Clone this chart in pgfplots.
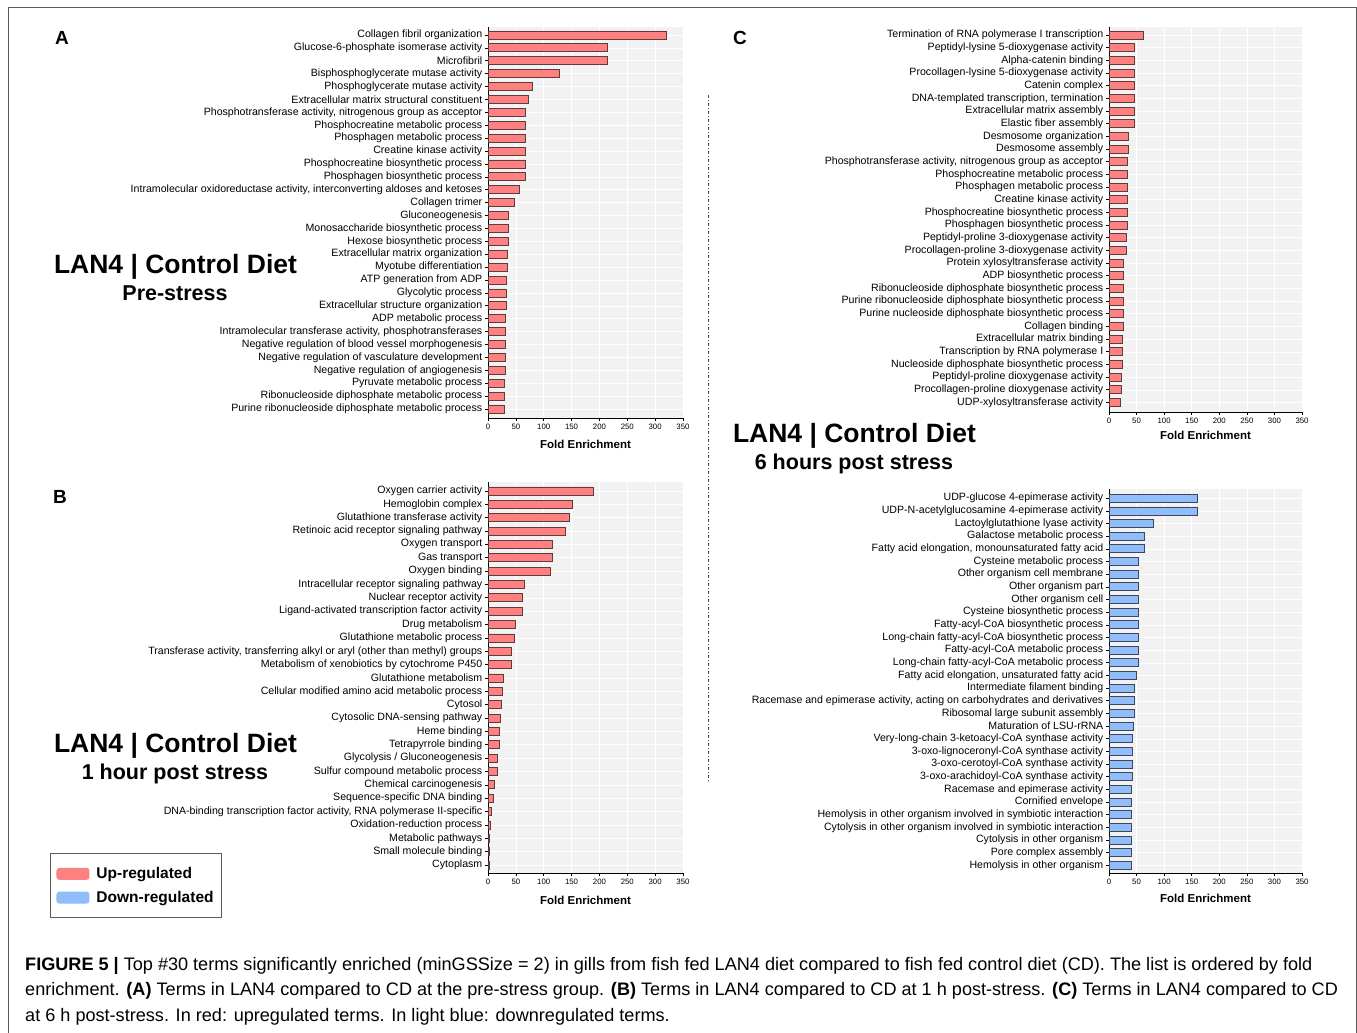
\documentclass[border=0pt]{standalone}
\usepackage{fontspec}
\setmainfont{Liberation Sans}
\usepackage{pgfplots}
\pgfplotsset{compat=1.18}

\definecolor{upred}{RGB}{255,128,128}
\definecolor{upedge}{RGB}{95,60,60}
\definecolor{downblue}{RGB}{145,190,250}
\definecolor{downedge}{RGB}{60,70,95}
\definecolor{bggray}{RGB}{242,242,242}
\definecolor{framegray}{RGB}{90,90,90}
\newcommand{\fs}[1]{\fontsize{#1}{#1}\selectfont}

\pgfplotsset{
  panel/.style={
    scale only axis, width=195pt,
    xbar, bar width=8pt, bar shift=0pt,
    xmin=0, xmax=350, xtick={0,50,...,350},
    y dir=reverse,
    axis x line*=bottom, axis y line*=left,
    axis line style={-, black, line width=0.9pt},
    major tick style={black, line width=0.7pt},
    tick align=outside, major tick length=3pt,
    axis background/.style={fill=bggray},
    xmajorgrids, ymajorgrids, grid style={white, line width=0.6pt},
    /pgf/number format/assume math mode=true,
    xticklabel style={font=\fs{7.8}, inner sep=3pt},
    yticklabel style={font=\fs{10.6}, inner sep=2.5pt},
    xlabel={Fold Enrichment},
    xlabel style={font=\bfseries\fs{11.5}, at={(axis description cs:0.5,0)}, anchor=base},
  },
  upbars/.style={fill=upred, draw=upedge, line width=0.8pt},
  downbars/.style={fill=downblue, draw=downedge, line width=0.8pt},
  swatch/.style={legend image code/.code={\fill[#1, rounded corners=2.5pt] (0pt,-5.5pt) rectangle (32pt,5.5pt);}},
}

\begin{document}
\begin{tikzpicture}
\useasboundingbox (0,0) rectangle (1357pt,-1033pt);
\fill[white] (0,0) rectangle (1357pt,-1033pt);

% frame and separator
\draw[framegray, line width=1pt] (8pt,-1033pt) -- (8pt,-8pt) -- (1356pt,-8pt) -- (1356pt,-1033pt);
\draw[framegray!80!black, line width=1pt, dash pattern=on 3pt off 2pt on 1pt off 2pt] (708pt,-95pt) -- (708pt,-782pt);

% ---------------- A: pre-stress ----------------
\begin{axis}[panel, at={(488pt,-27pt)}, anchor=north west, height=391pt,
  ymin=0.38, ymax=30.7, ytick={1,...,30},
  xlabel style={yshift=-30pt},
  yticklabels={
    {Collagen fibril organization},
    {Glucose-6-phosphate isomerase activity},
    {Microfibril},
    {Bisphosphoglycerate mutase activity},
    {Phosphoglycerate mutase activity},
    {Extracellular matrix structural constituent},
    {Phosphotransferase activity, nitrogenous group as acceptor},
    {Phosphocreatine metabolic process},
    {Phosphagen metabolic process},
    {Creatine kinase activity},
    {Phosphocreatine biosynthetic process},
    {Phosphagen biosynthetic process},
    {Intramolecular oxidoreductase activity, interconverting aldoses and ketoses},
    {Collagen trimer},
    {Gluconeogenesis},
    {Monosaccharide biosynthetic process},
    {Hexose biosynthetic process},
    {Extracellular matrix organization},
    {Myotube differentiation},
    {ATP generation from ADP},
    {Glycolytic process},
    {Extracellular structure organization},
    {ADP metabolic process},
    {Intramolecular transferase activity, phosphotransferases},
    {Negative regulation of blood vessel morphogenesis},
    {Negative regulation of vasculature development},
    {Negative regulation of angiogenesis},
    {Pyruvate metabolic process},
    {Ribonucleoside diphosphate metabolic process},
    {Purine ribonucleoside diphosphate metabolic process}}]
\addplot[upbars] coordinates {
  (321,1) (214,2) (214,3) (127.5,4) (80,5) (72,6) (68,7) (68,8) (68,9) (68,10)
  (68,11) (68,12) (57,13) (47,14) (36.5,15) (36.5,16) (36.5,17) (35,18) (35,19) (33,20)
  (33,21) (33,22) (30.5,23) (30.5,24) (30.5,25) (30.5,26) (30.5,27) (29,28) (29,29) (29,30)};
\end{axis}

% ---------------- B: 1 h post stress ----------------
\begin{axis}[panel, at={(488pt,-482pt)}, anchor=north west, height=391pt,
  ymin=0.33, ymax=29.6, ytick={1,...,29},
  xlabel style={yshift=-31pt},
  legend style={at={(axis description cs:-2.2462,0.0512)}, anchor=north west,
    draw=framegray, line width=1pt, font=\bfseries\fs{15.5},
    inner xsep=6pt, inner ysep=12pt, row sep=7pt, cells={anchor=west}},
  yticklabels={
    {Oxygen carrier activity},
    {Hemoglobin complex},
    {Glutathione transferase activity},
    {Retinoic acid receptor signaling pathway},
    {Oxygen transport},
    {Gas transport},
    {Oxygen binding},
    {Intracellular receptor signaling pathway},
    {Nuclear receptor activity},
    {Ligand-activated transcription factor activity},
    {Drug metabolism},
    {Glutathione metabolic process},
    {Transferase activity, transferring alkyl or aryl (other than methyl) groups},
    {Metabolism of xenobiotics by cytochrome P450},
    {Glutathione metabolism},
    {Cellular modified amino acid metabolic process},
    {Cytosol},
    {Cytosolic DNA-sensing pathway},
    {Heme binding},
    {Tetrapyrrole binding},
    {Glycolysis / Gluconeogenesis},
    {Sulfur compound metabolic process},
    {Chemical carcinogenesis},
    {Sequence-specific DNA binding},
    {DNA-binding transcription factor activity, RNA polymerase II-specific},
    {Oxidation-reduction process},
    {Metabolic pathways},
    {Small molecule binding},
    {Cytoplasm}}]
\addplot[upbars, forget plot] coordinates {
  (189,1) (152,2) (146,3) (138.5,4) (115,5) (115,6) (112,7) (66,8) (61,9) (61,10)
  (49,11) (47,12) (42,13) (42,14) (27.5,15) (26,16) (24.5,17) (22,18) (20.5,19) (20.5,20)
  (17,21) (17,22) (11.5,23) (9.5,24) (6.5,25) (4,26) (2.5,27) (2.5,28) (2.5,29)};
\addlegendimage{swatch=upred}
\addlegendentry{\hspace{5pt}Up-regulated}
\addlegendimage{swatch=downblue}
\addlegendentry{\hspace{5pt}Down-regulated}
\end{axis}

% ---------------- C: 6 h post stress, up ----------------
\begin{axis}[panel, at={(1109pt,-27pt)}, anchor=north west, width=193pt, height=385pt,
  ymin=0.37, ymax=30.75, ytick={1,...,30},
  xlabel style={yshift=-27pt},
  yticklabels={
    {Termination of RNA polymerase I transcription},
    {Peptidyl-lysine 5-dioxygenase activity},
    {Alpha-catenin binding},
    {Procollagen-lysine 5-dioxygenase activity},
    {Catenin complex},
    {DNA-templated transcription, termination},
    {Extracellular matrix assembly},
    {Elastic fiber assembly},
    {Desmosome organization},
    {Desmosome assembly},
    {Phosphotransferase activity, nitrogenous group as acceptor},
    {Phosphocreatine metabolic process},
    {Phosphagen metabolic process},
    {Creatine kinase activity},
    {Phosphocreatine biosynthetic process},
    {Phosphagen biosynthetic process},
    {Peptidyl-proline 3-dioxygenase activity},
    {Procollagen-proline 3-dioxygenase activity},
    {Protein xylosyltransferase activity},
    {ADP biosynthetic process},
    {Ribonucleoside diphosphate biosynthetic process},
    {Purine ribonucleoside diphosphate biosynthetic process},
    {Purine nucleoside diphosphate biosynthetic process},
    {Collagen binding},
    {Extracellular matrix binding},
    {Transcription by RNA polymerase I},
    {Nucleoside diphosphate biosynthetic process},
    {Peptidyl-proline dioxygenase activity},
    {Procollagen-proline dioxygenase activity},
    {UDP-xylosyltransferase activity}}]
\addplot[upbars] coordinates {
  (62,1) (46,2) (46,3) (46,4) (46,5) (46,6) (46,7) (46,8) (36,9) (36,10)
  (33,11) (33,12) (33,13) (33,14) (33,15) (33,16) (31,17) (31,18) (25.5,19) (25.5,20)
  (25.5,21) (25.5,22) (25.5,23) (25.5,24) (23.5,25) (23.5,26) (23.5,27) (22,28) (22,29) (20,30)};
\end{axis}

% ---------------- C: 6 h post stress, down ----------------
\begin{axis}[panel, at={(1109pt,-489pt)}, anchor=north west, width=193pt, height=384pt,
  ymin=0.27, ymax=30.6, ytick={1,...,30},
  xlabel style={yshift=-29pt},
  yticklabels={
    {UDP-glucose 4-epimerase activity},
    {UDP-N-acetylglucosamine 4-epimerase activity},
    {Lactoylglutathione lyase activity},
    {Galactose metabolic process},
    {Fatty acid elongation, monounsaturated fatty acid},
    {Cysteine metabolic process},
    {Other organism cell membrane},
    {Other organism part},
    {Other organism cell},
    {Cysteine biosynthetic process},
    {Fatty-acyl-CoA biosynthetic process},
    {Long-chain fatty-acyl-CoA biosynthetic process},
    {Fatty-acyl-CoA metabolic process},
    {Long-chain fatty-acyl-CoA metabolic process},
    {Fatty acid elongation, unsaturated fatty acid},
    {Intermediate filament binding},
    {Racemase and epimerase activity, acting on carbohydrates and derivatives},
    {Ribosomal large subunit assembly},
    {Maturation of LSU-rRNA},
    {Very-long-chain 3-ketoacyl-CoA synthase activity},
    {3-oxo-lignoceronyl-CoA synthase activity},
    {3-oxo-cerotoyl-CoA synthase activity},
    {3-oxo-arachidoyl-CoA synthase activity},
    {Racemase and epimerase activity},
    {Cornified envelope},
    {Hemolysis in other organism involved in symbiotic interaction},
    {Cytolysis in other organism involved in symbiotic interaction},
    {Cytolysis in other organism},
    {Pore complex assembly},
    {Hemolysis in other organism}}]
\addplot[downbars] coordinates {
  (160.5,1) (160.5,2) (80.5,3) (64,4) (64,5) (54,6) (54,7) (54,8) (54,9) (54,10)
  (54,11) (54,12) (54,13) (54,14) (49.5,15) (46,16) (46,17) (46,18) (44,19) (42.5,20)
  (42.5,21) (42.5,22) (42.5,23) (40.5,24) (40.5,25) (40.5,26) (40.5,27) (40.5,28) (40.5,29) (40.5,30)};
\end{axis}

% panel letters and titles
\node[anchor=base, font=\bfseries\fs{19}] at (62pt,-45pt) {A};
\node[anchor=base, font=\bfseries\fs{19}] at (60pt,-503pt) {B};
\node[anchor=base, font=\bfseries\fs{19}] at (740pt,-45pt) {C};

\node[anchor=base, font=\bfseries\fs{26.5}] at (175.5pt,-273.5pt) {LAN4 | Control Diet};
\node[anchor=base, font=\bfseries\fs{21.5}] at (175pt,-300pt) {Pre-stress};
\node[anchor=base, font=\bfseries\fs{26.5}] at (175.5pt,-752.5pt) {LAN4 | Control Diet};
\node[anchor=base, font=\bfseries\fs{21.5}] at (175pt,-779pt) {1 hour post stress};
\node[anchor=base, font=\bfseries\fs{26.5}] at (854.5pt,-442.5pt) {LAN4 | Control Diet};
\node[anchor=base, font=\bfseries\fs{21.5}] at (854pt,-469pt) {6 hours post stress};

% caption
\node[anchor=base west, inner sep=0pt, font=\fs{18.1}] at (25pt,-970pt)
  {\textbf{FIGURE 5 |} Top \#30 terms significantly enriched (minGSSize = 2) in gills from fish fed LAN4 diet compared to fish fed control diet (CD). The list is ordered by fold};
\node[anchor=base west, inner sep=0pt, font=\fs{18.1}] at (25pt,-995.5pt)
  {enrichment. \textbf{(A)} Terms in LAN4 compared to CD at the pre-stress group. \textbf{(B)} Terms in LAN4 compared to CD at 1 h post-stress. \textbf{(C)} Terms in LAN4 compared to CD};
\node[anchor=base west, inner sep=0pt, font=\fs{18.1}] at (25pt,-1021pt)
  {at 6 h post-stress. In red: upregulated terms. In light blue: downregulated terms.};
\end{tikzpicture}
\end{document}
